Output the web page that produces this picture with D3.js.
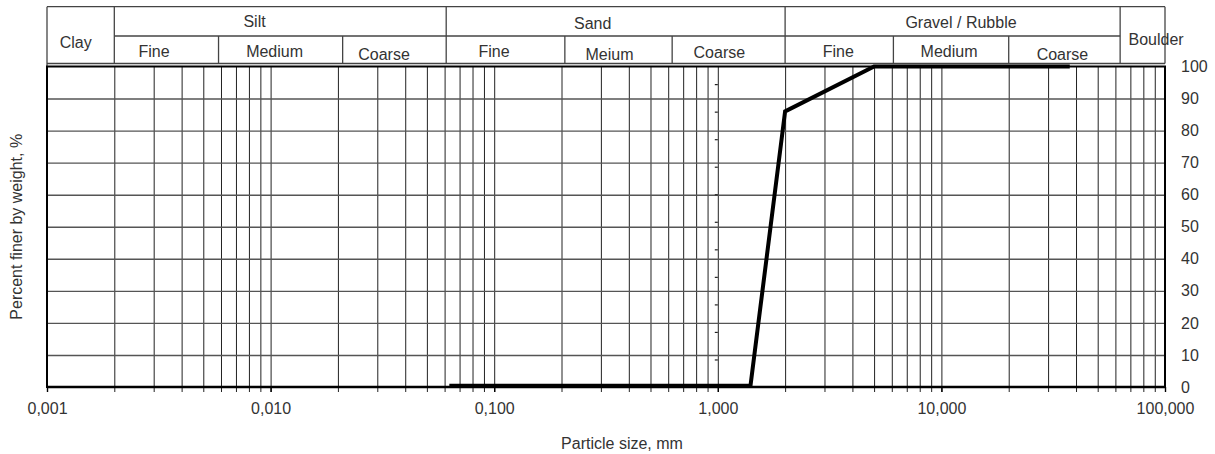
<!DOCTYPE html>
<html>
<head>
<meta charset="utf-8">
<script src="https://cdn.jsdelivr.net/npm/d3@7"></script>
<style>
  html, body { margin: 0; padding: 0; background: #fff; }
  svg { display: block; font-family: "Liberation Sans", Arial, sans-serif; }
</style>
</head>
<body>
<svg id="chart" width="1215" height="454"></svg>
<script>
// Grain size distribution (sieve analysis)
const sieveSizes   = [0.063, 1.4, 2, 5, 37.5];   // particle size, mm
const percentFiner = [0.4, 0.4, 86, 100, 100];   // percent finer by weight, %

// axis ticks
const xTickValues = [0.001, 0.01, 0.1, 1, 10, 100];
const xTickLabels = ["0,001", "0,010", "0,100", "1,000", "10,000", "100,000"];
const yTickValues = [0, 10, 20, 30, 40, 50, 60, 70, 80, 90, 100];

// soil classification bands, bounds in mm
const groupNames  = ["Clay", "Silt", "Sand", "Gravel / Rubble", "Boulder"];
const groupBounds = [[0.001, 0.002], [0.002, 0.061], [0.061, 2], [2, 63], [63, 100]];
const subNames    = ["Fine", "Medium", "Coarse", "Fine", "Meium", "Coarse", "Fine", "Medium", "Coarse"];
const subBounds   = [[0.002, 0.00585], [0.00585, 0.021], [0.021, 0.061],
                     [0.061, 0.207], [0.207, 0.625], [0.625, 2],
                     [2, 6.1], [6.1, 20], [20, 63]];

// tick marks along the 1 mm line
const auxTicks = [1, 2, 3, 4, 5, 6, 7, 8, 9, 10, 11];
const auxMax = 11.64;

// label placement inside the header cells
const groupLayout = [
  { dx: -5,   y: 47.5 }, { dx: -25.7, y: 27 }, { dx: -23, y: 29 },
  { dx: 8.4,  y: 28 },   { dx: 13.5,  y: 45 }
];
const subLayout = [
  { dx: -12.4, y: 57 }, { dx: -6,   y: 57 }, { dx: -10.4, y: 60 },
  { dx: -11.5, y: 57.3 }, { dx: -9, y: 60 }, { dx: -9.3, y: 58.3 },
  { dx: -1,    y: 57.3 }, { dx: -2, y: 57.3 }, { dx: -2, y: 60 }
];

const svg = d3.select("#chart");
const textColor = "#333";
const fontSize = 16;

const x = d3.scaleLog().domain([0.001, 100]).range([47, 1165]);
const y = d3.scaleLinear().domain([0, 100]).range([387, 66.5]);
const yAux = d3.scaleLinear().domain([0, auxMax]).range([y(0), y(100)]);

// ---------- header table ----------
const head = svg.append("g").attr("class", "header")
  .attr("stroke", "#444").attr("stroke-width", 1.3).attr("fill", "none");
const headTop = 6.7, headMid = 36, headBottom = 63.5;

head.append("line").attr("x1", x(0.001)).attr("x2", x(100)).attr("y1", headTop).attr("y2", headTop);
head.append("line").attr("x1", x(0.001)).attr("x2", x(100)).attr("y1", headBottom).attr("y2", headBottom);
head.append("line").attr("x1", x(0.002)).attr("x2", x(63)).attr("y1", headMid).attr("y2", headMid);
head.append("line").attr("x1", x(0.001)).attr("x2", x(0.001)).attr("y1", headTop).attr("y2", y(100));
head.selectAll("line.group-div")
  .data(groupBounds.map(d => d[1]))
  .join("line").attr("class", "group-div")
  .attr("x1", d => x(d)).attr("x2", d => x(d))
  .attr("y1", headTop).attr("y2", headBottom);
head.selectAll("line.sub-div")
  .data(subBounds.map(d => d[1]).filter(d => !groupBounds.some(g => g[1] === d)))
  .join("line").attr("class", "sub-div")
  .attr("x1", d => x(d)).attr("x2", d => x(d))
  .attr("y1", headMid).attr("y2", headBottom);

const headText = svg.append("g").attr("fill", textColor).attr("font-size", fontSize).attr("text-anchor", "middle");
headText.selectAll("text.group")
  .data(groupNames)
  .join("text").attr("class", "group")
  .attr("x", (d, i) => (x(groupBounds[i][0]) + x(groupBounds[i][1])) / 2 + groupLayout[i].dx)
  .attr("y", (d, i) => groupLayout[i].y)
  .text(d => d);
headText.selectAll("text.sub")
  .data(subNames)
  .join("text").attr("class", "sub")
  .attr("x", (d, i) => (x(subBounds[i][0]) + x(subBounds[i][1])) / 2 + subLayout[i].dx)
  .attr("y", (d, i) => subLayout[i].y)
  .text(d => d);

// ---------- grid ----------
const minorValues = [];
for (let e = -3; e < 2; e++) {
  for (let m = 1; m <= 9; m++) {
    const v = +(m * Math.pow(10, e)).toPrecision(3);
    if (v > 0.001 && v < 100) minorValues.push(v);
  }
}

svg.append("g")
  .attr("transform", `translate(0,${y(0)})`)
  .call(d3.axisBottom(x).tickValues(minorValues).tickFormat("")
    .tickSizeInner(-(y(0) - y(100))).tickSizeOuter(0))
  .call(g => g.select(".domain").remove())
  .call(g => g.selectAll(".tick line").attr("stroke", "#222").attr("stroke-width", 1)
    .attr("y1", 5));

svg.append("g")
  .attr("transform", `translate(${x(0.001)},0)`)
  .call(d3.axisLeft(y).tickValues(yTickValues.filter(v => v > 0 && v < 100)).tickFormat("")
    .tickSizeInner(-(x(100) - x(0.001))).tickSizeOuter(0))
  .call(g => g.select(".domain").remove())
  .call(g => g.selectAll(".tick line").attr("stroke", "#555").attr("stroke-width", 1.4));

// small marks along the 1 mm line
svg.append("g")
  .attr("transform", `translate(${x(1)},0)`)
  .call(d3.axisLeft(yAux).tickValues(auxTicks).tickFormat("").tickSizeInner(3).tickSizeOuter(0))
  .call(g => g.select(".domain").remove())
  .call(g => g.selectAll(".tick line").attr("stroke", "#222").attr("stroke-width", 1.2));

// plot frame
svg.append("rect")
  .attr("x", x(0.001)).attr("y", y(100))
  .attr("width", x(100) - x(0.001)).attr("height", y(0) - y(100))
  .attr("fill", "none").attr("stroke", "#000").attr("stroke-width", 2);
svg.append("line")
  .attr("x1", x(0.001)).attr("x2", x(100)).attr("y1", y(0)).attr("y2", y(0))
  .attr("stroke", "#000").attr("stroke-width", 2.6);

// ---------- axes ----------
svg.append("g")
  .attr("transform", `translate(0,${y(0)})`)
  .call(d3.axisBottom(x).tickValues(xTickValues)
    .tickFormat((d, i) => xTickLabels[i]).tickSizeInner(5).tickSizeOuter(0).tickPadding(11))
  .call(g => g.select(".domain").remove())
  .call(g => g.selectAll(".tick line").attr("stroke", "#000").attr("stroke-width", 1.4))
  .call(g => g.selectAll(".tick text").attr("fill", textColor).attr("font-size", fontSize)
    .attr("font-family", null));

svg.append("g")
  .attr("transform", `translate(${x(100)},0)`)
  .call(d3.axisRight(y).tickValues(yTickValues).tickSize(0).tickPadding(16))
  .call(g => g.select(".domain").remove())
  .call(g => g.selectAll(".tick text").attr("fill", textColor).attr("font-size", fontSize)
    .attr("font-family", null));

// ---------- curve ----------
const curveData = sieveSizes.map((s, i) => ({ size: s, pct: percentFiner[i] }));
svg.append("path")
  .datum(curveData)
  .attr("fill", "none").attr("stroke", "#000").attr("stroke-width", 4)
  .attr("stroke-linejoin", "miter")
  .attr("d", d3.line().x(d => x(d.size)).y(d => y(d.pct)));

// ---------- titles ----------
svg.append("text")
  .attr("x", 622).attr("y", 449)
  .attr("text-anchor", "middle").attr("fill", textColor).attr("font-size", fontSize)
  .text("Particle size, mm");
svg.append("text")
  .attr("transform", `translate(22,${(y(0) + y(100)) / 2}) rotate(-90)`)
  .attr("text-anchor", "middle").attr("fill", textColor).attr("font-size", fontSize)
  .text("Percent finer by weight, %");
</script>
</body>
</html>
